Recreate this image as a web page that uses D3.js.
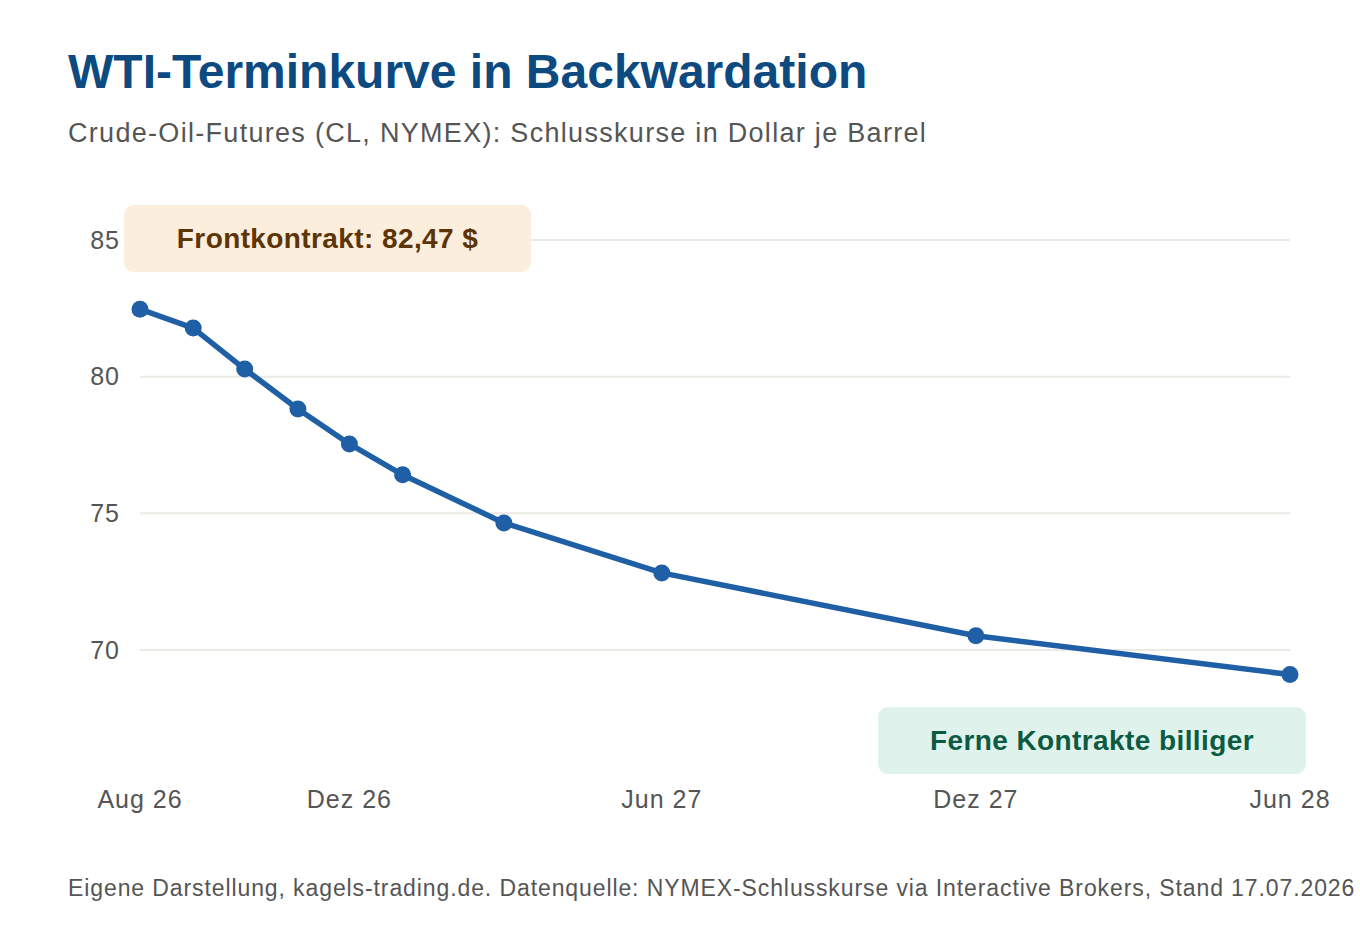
<!DOCTYPE html>
<html>
<head>
  <meta charset="utf-8">
  <script src="https://cdn.jsdelivr.net/npm/d3@7"></script>
  <style>
body { margin: 0; background: #fff; }
svg { font-family: "Liberation Sans", Arial, sans-serif; }
.grid line { stroke: #eceae5; stroke-width: 2; }
.tick-label { fill: #555; font-size: 25px; letter-spacing: 1px; }
  </style>
</head>
<body>
  <svg width="1360" height="940"></svg>
  <script>

// contract months and settlement prices
const months = ["2026-08", "2026-09", "2026-10", "2026-11", "2026-12", "2027-01",
                "2027-03", "2027-06", "2027-12", "2028-06"];
const prices = [82.47, 81.78, 80.28, 78.82, 77.54, 76.41, 74.65, 72.82, 70.52, 69.10];

const xTicks = ["2026-08", "2026-12", "2027-06", "2027-12", "2028-06"];
const xTickLabels = ["Aug 26", "Dez 26", "Jun 27", "Dez 27", "Jun 28"];
const yTicks = [70, 75, 80, 85];

const parse = d3.timeParse("%Y-%m");
const data = months.map((m, i) => ({date: parse(m), value: prices[i]}));

var svg = d3.select("svg");

var x = d3.scaleTime()
          .domain([parse("2026-08"), parse("2028-06")])
          .range([140, 1290]);

var y = d3.scaleLinear()
          .domain([66, 86])
          .range([759.3, 212.7]);

// title block
svg.append("text")
   .attr("x", 68).attr("y", 88)
   .attr("fill", "#0d4a80")
   .attr("font-size", 48).attr("font-weight", "bold")
   .text("WTI-Terminkurve in Backwardation");

svg.append("text")
   .attr("x", 68).attr("y", 142)
   .attr("fill", "#555")
   .attr("font-size", 27)
   .attr("letter-spacing", 1.3)
   .text("Crude-Oil-Futures (CL, NYMEX): Schlusskurse in Dollar je Barrel");

// gridlines
svg.append("g")
   .attr("class", "grid")
   .selectAll("line")
   .data(yTicks)
   .enter().append("line")
   .attr("x1", x.range()[0]).attr("x2", x.range()[1])
   .attr("y1", d => y(d)).attr("y2", d => y(d));

svg.append("g")
   .selectAll("text")
   .data(yTicks)
   .enter().append("text")
   .attr("class", "tick-label")
   .attr("x", 120)
   .attr("y", d => y(d))
   .attr("dy", "0.35em")
   .attr("text-anchor", "end")
   .text(d => d);

svg.append("g")
   .selectAll("text")
   .data(xTicks)
   .enter().append("text")
   .attr("class", "tick-label")
   .attr("x", d => x(parse(d)))
   .attr("y", 808)
   .attr("text-anchor", "middle")
   .text((d, i) => xTickLabels[i]);

// annotations
function note(cx, cy, w, h, fill, color, label) {
  var g = svg.append("g");
  g.append("rect")
   .attr("x", cx - w / 2).attr("y", cy - h / 2)
   .attr("width", w).attr("height", h)
   .attr("rx", 10)
   .attr("fill", fill);
  g.append("text")
   .attr("x", cx).attr("y", cy)
   .attr("dy", "0.35em")
   .attr("text-anchor", "middle")
   .attr("font-size", 28).attr("font-weight", "bold")
   .attr("letter-spacing", 0.4)
   .attr("fill", color)
   .text(label);
}

note(327.5, 238.5, 407, 67, "#fbeedc", "#5c3406", "Frontkontrakt: 82,47 $");
note(1092, 740.5, 428, 67, "#dff3ec", "#0d5a42", "Ferne Kontrakte billiger");

// curve
var line = d3.line()
             .x(d => x(d.date))
             .y(d => y(d.value));

svg.append("path")
   .datum(data)
   .attr("fill", "none")
   .attr("stroke", "#1f5fa6")
   .attr("stroke-width", 5.5)
   .attr("stroke-linejoin", "round")
   .attr("d", line);

svg.append("g")
   .selectAll("circle")
   .data(data)
   .enter().append("circle")
   .attr("cx", d => x(d.date))
   .attr("cy", d => y(d.value))
   .attr("r", 8.5)
   .attr("fill", "#1f5fa6");

// source
svg.append("text")
   .attr("x", 68).attr("y", 896)
   .attr("fill", "#555")
   .attr("font-size", 23)
   .attr("letter-spacing", 0.9)
   .text("Eigene Darstellung, kagels-trading.de. Datenquelle: NYMEX-Schlusskurse via Interactive Brokers, Stand 17.07.2026");

</script>
</body>
</html>
